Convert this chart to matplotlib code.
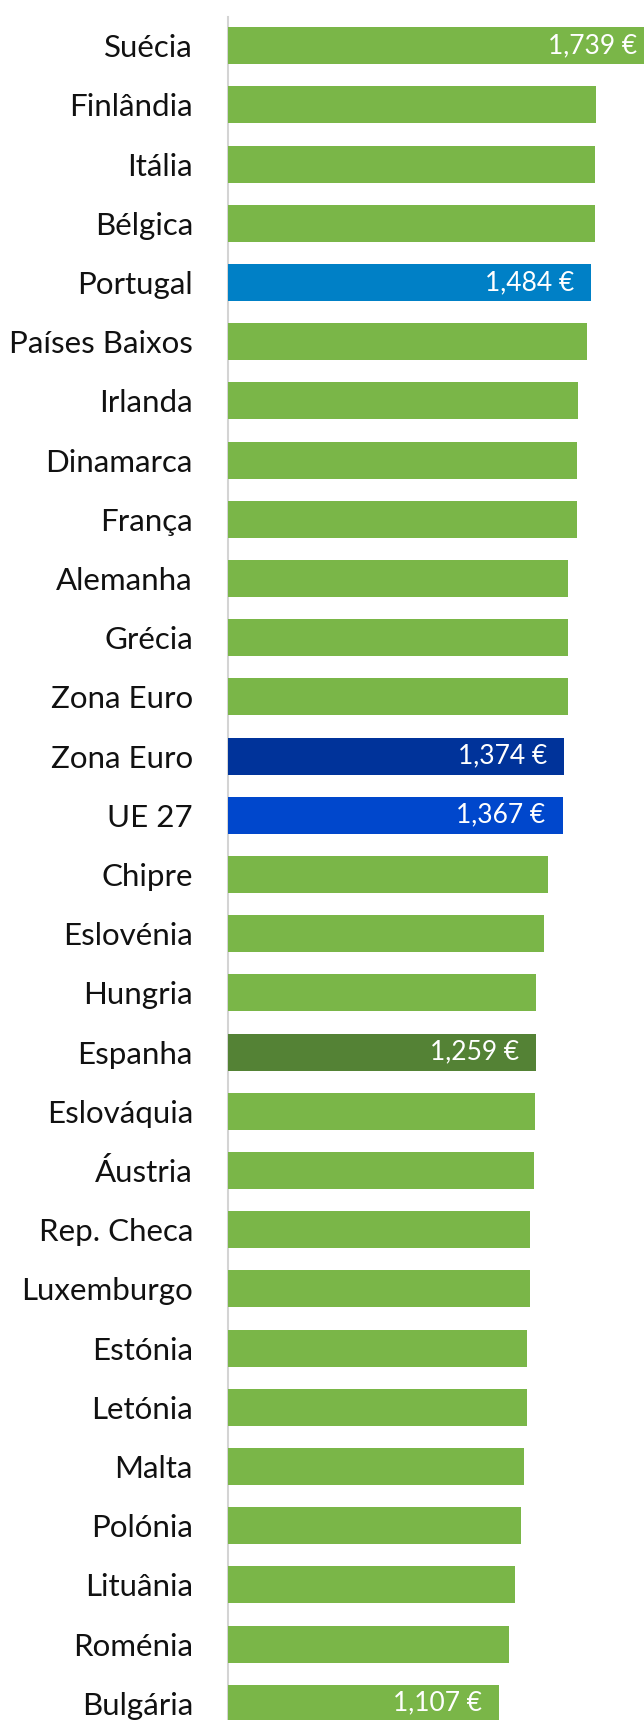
import matplotlib
matplotlib.use("Agg")
import matplotlib.pyplot as plt

countries = ["Suécia", "Finlândia", "Itália", "Bélgica", "Portugal", "Países Baixos",
             "Irlanda", "Dinamarca", "França", "Alemanha", "Grécia", "Zona Euro",
             "Zona Euro", "UE 27", "Chipre", "Eslovénia", "Hungria", "Espanha",
             "Eslováquia", "Áustria", "Rep. Checa", "Luxemburgo", "Estónia", "Letónia",
             "Malta", "Polónia", "Lituânia", "Roménia", "Bulgária"]
values = [1739, 1502, 1500, 1499, 1484, 1467, 1431, 1426, 1424, 1389, 1389, 1389,
          1374, 1367, 1307, 1291, 1258, 1259, 1256, 1251, 1235, 1234, 1220, 1220,
          1208, 1196, 1171, 1147, 1107]
label_idx = [0, 4, 12, 13, 17, 28]
label_texts = ["1,739 €", "1,484 €", "1,374 €", "1,367 €", "1,259 €", "1,107 €"]

GREEN = "#7AB648"
special_colors = {4: "#0080C6", 12: "#00339A", 13: "#0047CC", 17: "#548235"}
colors = [special_colors.get(i, GREEN) for i in range(len(countries))]

W, H, DPI = 644, 1720, 100
fig = plt.figure(figsize=(W / DPI, H / DPI), dpi=DPI)
x0 = 227.7
top_px = 17
ax = fig.add_axes([x0 / W, 0, 1 - x0 / W, 1 - top_px / H])

pitch = 59.2
first_center = 45.7
n = len(countries)
y_top = -(first_center - top_px) / pitch
y_bot = (H - first_center) / pitch
px_per_unit = 0.245
xmax = (W - x0) / px_per_unit

ypos = list(range(n))
ax.barh(ypos, values, height=0.625, color=colors, zorder=3)
ax.set_xlim(0, xmax)
ax.set_ylim(y_bot, y_top)

ax.set_yticks(ypos)
ax.set_yticklabels(countries, fontfamily="Lato", fontsize=22.5, color="#111111")
ax.tick_params(axis="y", length=0, pad=25)
ax.set_xticks([])
for s in ["top", "right", "bottom"]:
    ax.spines[s].set_visible(False)
ax.spines["left"].set_color("#d4d4d4")
ax.spines["left"].set_linewidth(1.5)
ax.spines["left"].set_zorder(1)

pad_units = 17 / px_per_unit
for i, txt in zip(label_idx, label_texts):
    ax.text(values[i] - pad_units, i, txt, ha="right", va="center",
            color="white", fontsize=19, fontfamily="Lato",
            zorder=5)

fig.savefig("out.png", dpi=DPI)
